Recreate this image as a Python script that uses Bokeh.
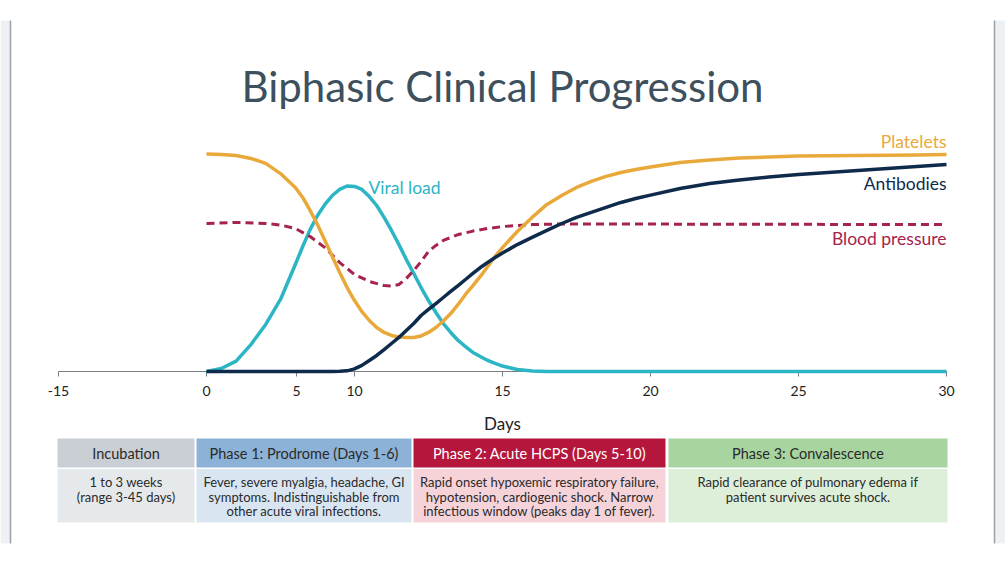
from bokeh.plotting import figure
from bokeh.models import Range1d, LinearAxis, FixedTicker, ColumnDataSource
from bokeh.core.properties import value
from bokeh.embed import file_html
from bokeh.resources import INLINE

# ---------------- data ----------------
TITLE = "Biphasic Clinical Progression"
X_LABEL = "Days"
tick_pos = [0, 5, 8.04, 10, 15, 20, 25, 30]
tick_labels = ["-15", "0", "5", "10", "15", "20", "25", "30"]

# sample positions along the (display) day axis
day_pos = [5.0, 5.5, 6.0, 6.5, 7.0, 7.5, 8.0, 8.25, 8.5, 8.75, 9.0, 9.25, 9.5, 9.75,
           10.0, 10.25, 10.5, 10.75, 11.0, 11.25, 11.5, 11.75, 12.0, 12.25, 12.5, 12.75,
           13.0, 13.25, 13.5, 13.75, 14.0, 14.25, 14.5, 14.75, 15.0, 15.5, 16.0, 16.5,
           17.0, 17.5, 18.0, 18.5, 19.0, 19.5, 20.0, 21, 22, 23, 24, 25, 26, 27, 28, 29, 30]

viral_load = [0.0, 1.4, 4.8, 12.4, 21.7, 33.2, 49.3, 57.6, 65.4, 71.9, 77.0, 81.1, 83.9, 85.5,
              85.3, 83.9, 80.6, 76.5, 71.0, 65.0, 58.5, 51.6, 45.2, 38.7, 32.7, 27.2,
              22.1, 18.0, 14.3, 11.5, 8.8, 6.9, 5.1, 3.7, 2.5, 0.9, 0.2, 0.0,
              0, 0, 0, 0, 0, 0, 0, 0, 0, 0, 0, 0, 0, 0, 0, 0, 0]

platelets = [100.2, 100.0, 99.5, 98.2, 95.9, 91.2, 84.8, 80.2, 74.2, 67.7, 60.4, 53.0, 45.6, 38.7,
             32.7, 27.6, 23.5, 20.3, 18.0, 16.6, 15.9, 15.7, 15.7, 16.4, 18.0, 20.3,
             23.3, 26.7, 30.9, 35.5, 39.6, 43.8, 48.4, 53.0, 57.1, 64.5, 71.0, 77.0,
             81.1, 84.8, 87.6, 89.9, 91.7, 93.1, 94.2, 96.3, 97.5, 98.4, 98.8, 99.3, 99.4, 99.5, 99.6, 99.8, 100.0]

antibodies = [0, 0, 0, 0, 0, 0, 0, 0, 0, 0, 0, 0.0, 0.1, 0.3,
              1.2, 2.8, 5.1, 7.4, 10.1, 12.9, 15.7, 18.9, 22.1, 25.8, 28.6, 31.3,
              34.1, 36.9, 39.6, 42.4, 45.2, 47.9, 50.2, 52.5, 54.6, 58.5, 61.8, 65.0,
              68.2, 71.0, 73.3, 75.6, 77.9, 79.7, 81.3, 84.3, 86.6, 88.2, 89.6, 90.8, 91.7, 92.6, 93.5, 94.5, 95.4]

bp_pos = [5.0, 6.0, 7.0, 7.5, 8.0, 8.5, 9.0, 9.5, 10.0, 10.5, 11.0, 11.25, 11.5, 11.75, 12.0,
          12.25, 12.5, 12.75, 13.0, 13.5, 14.0, 14.5, 15.0, 16.0, 17.0, 30.0]
blood_pressure = [68.2, 68.7, 68.2, 67.5, 65.9, 62.2, 57.1, 50.2, 44.7, 41.5, 39.6, 39.4, 40.1, 42.9, 46.5,
                  50.7, 55.3, 58.1, 60.4, 63.1, 64.7, 65.9, 66.8, 67.7, 68.0, 67.7]

series_names = ["Platelets", "Antibodies", "Blood pressure", "Viral load"]

phases = ["Incubation", "Phase 1: Prodrome (Days 1-6)",
          "Phase 2: Acute HCPS (Days 5-10)", "Phase 3: Convalescence"]
descriptions = [
    "1 to 3 weeks\n(range 3-45 days)",
    "Fever, severe myalgia, headache, GI\nsymptoms. Indistinguishable from\nother acute viral infections.",
    "Rapid onset hypoxemic respiratory failure,\nhypotension, cardiogenic shock. Narrow\ninfectious window (peaks day 1 of fever).",
    "Rapid clearance of pulmonary edema if\npatient survives acute shock.",
]

# ---------------- styles / layout ----------------
FONT = "Lato"
C_PLT = "#E9A93A"
C_VIR = "#2CB5C5"
C_AB = "#0F2B4C"
C_BP = "#A5234C"
C_TITLE = "#3D505E"
C_TXT = "#2A2A2A"

head_fill = ["#C9CFD4", "#8DB2D7", "#B5173C", "#A8D4A0"]
body_fill = ["#E6E9EC", "#D9E6F2", "#F5D3D9", "#DDEFD9"]
head_color = [C_TXT, C_TXT, "#FFFFFF", C_TXT]
col_left = [57, 196, 413, 668]
col_right = [194, 411, 665, 947]

W, H = 1005, 565
PX_PER_DAY = 29.6
X0 = 354.0   # canvas pixel of axis position 10
Y0 = 371.0   # canvas pixel of value 0
PX_PER_UNIT = 2.17

p = figure(width=W, height=H, output_backend="svg", toolbar_location=None,
           x_range=Range1d(10 - X0 / PX_PER_DAY, 10 + (W - X0) / PX_PER_DAY),
           y_range=Range1d((Y0 - H) / PX_PER_UNIT, Y0 / PX_PER_UNIT),
           x_axis_type=None, y_axis_type=None,
           min_border=0, min_border_left=0, min_border_right=0,
           min_border_top=0, min_border_bottom=0)
p.outline_line_color = None
p.grid.visible = False
p.background_fill_color = "#FFFFFF"
p.border_fill_color = "#FFFFFF"
p.extra_x_ranges = {"px": Range1d(0, W)}
p.extra_y_ranges = {"px": Range1d(H, 0)}

# side decoration
p.quad(left=[0, 994.5], right=[9.5, 1005], top=[20, 20], bottom=[543, 543],
       x_range_name="px", y_range_name="px", fill_color="#EEF1F4", line_color=None)
p.segment(x0=[10, 994], y0=[20, 20], x1=[10, 994], y1=[543, 543],
          x_range_name="px", y_range_name="px", line_color="#9AA0A7", line_width=1.5)

# title
p.text(x=[502], y=[85], text=[TITLE], x_range_name="px", y_range_name="px",
       text_font=value(FONT), text_font_size="42px", text_color=C_TITLE,
       text_align="center", text_baseline="alphabetic")

# axis
ax = LinearAxis(fixed_location=0, ticker=FixedTicker(ticks=tick_pos),
                major_label_overrides={t: l for t, l in zip(tick_pos, tick_labels)})
ax.bounds = (tick_pos[0], tick_pos[-1])
ax.level = "underlay"
ax.axis_line_color = "#7A7F86"
ax.axis_line_width = 1.2
ax.major_tick_line_color = "#7A7F86"
ax.major_tick_out = 5
ax.major_tick_in = 0
ax.minor_tick_line_color = None
ax.major_label_text_font = FONT
ax.major_label_text_font_size = "14px"
ax.major_label_text_color = "#222222"
ax.major_label_standoff = 9
ax.axis_label = X_LABEL
ax.axis_label_text_font = FONT
ax.axis_label_text_font_size = "17px"
ax.axis_label_text_font_style = "normal"
ax.axis_label_text_color = "#222222"
ax.axis_label_standoff = 14
p.add_layout(ax, "below")

# curves
p.line(day_pos, viral_load, line_color=C_VIR, line_width=3.5, line_join="round")
p.line(bp_pos, blood_pressure, line_color=C_BP, line_width=3, line_dash="8 5")
p.line(day_pos, platelets, line_color=C_PLT, line_width=3.5, line_join="round")
p.line(day_pos, antibodies, line_color=C_AB, line_width=3.5, line_join="round")

# series labels
p.text(x=[10.47], y=[84.8], text=[series_names[3]], text_font=value(FONT),
       text_font_size="17.5px", text_color=C_VIR, text_align="left", text_baseline="middle")
p.text(x=[30, 30, 30], y=[106.0, 86.6, 61.3], text=series_names[:3],
       text_font=value(FONT), text_font_size="17.5px",
       text_color=[C_PLT, C_AB, C_BP], text_align="right", text_baseline="middle")

# table
cx = [(a + b) / 2 for a, b in zip(col_left, col_right)]
tsrc = ColumnDataSource(dict(left=col_left, right=col_right, cx=cx, head=phases,
                             hf=head_fill, bf=body_fill, hc=head_color))
p.quad(left="left", right="right", top=438, bottom=467, fill_color="hf",
       line_color=None, source=tsrc, x_range_name="px", y_range_name="px")
p.quad(left="left", right="right", top=468.5, bottom=522, fill_color="bf",
       line_color=None, source=tsrc, x_range_name="px", y_range_name="px")
p.text(x="cx", y=453, text="head", text_color="hc", source=tsrc,
       x_range_name="px", y_range_name="px", text_font=value(FONT),
       text_font_size="14.5px", text_align="center", text_baseline="middle")

lx, ly, lt = [], [], []
for c, d in zip(cx, descriptions):
    for i, line in enumerate(d.split("\n")):
        lx.append(c)
        ly.append(481.5 + i * 14.5)
        lt.append(line)
p.text(x=lx, y=ly, text=lt, text_color=C_TXT,
       x_range_name="px", y_range_name="px", text_font=value(FONT),
       text_font_size="13px", text_align="center", text_baseline="middle")

open("out.html", "w").write(file_html(p, INLINE))
